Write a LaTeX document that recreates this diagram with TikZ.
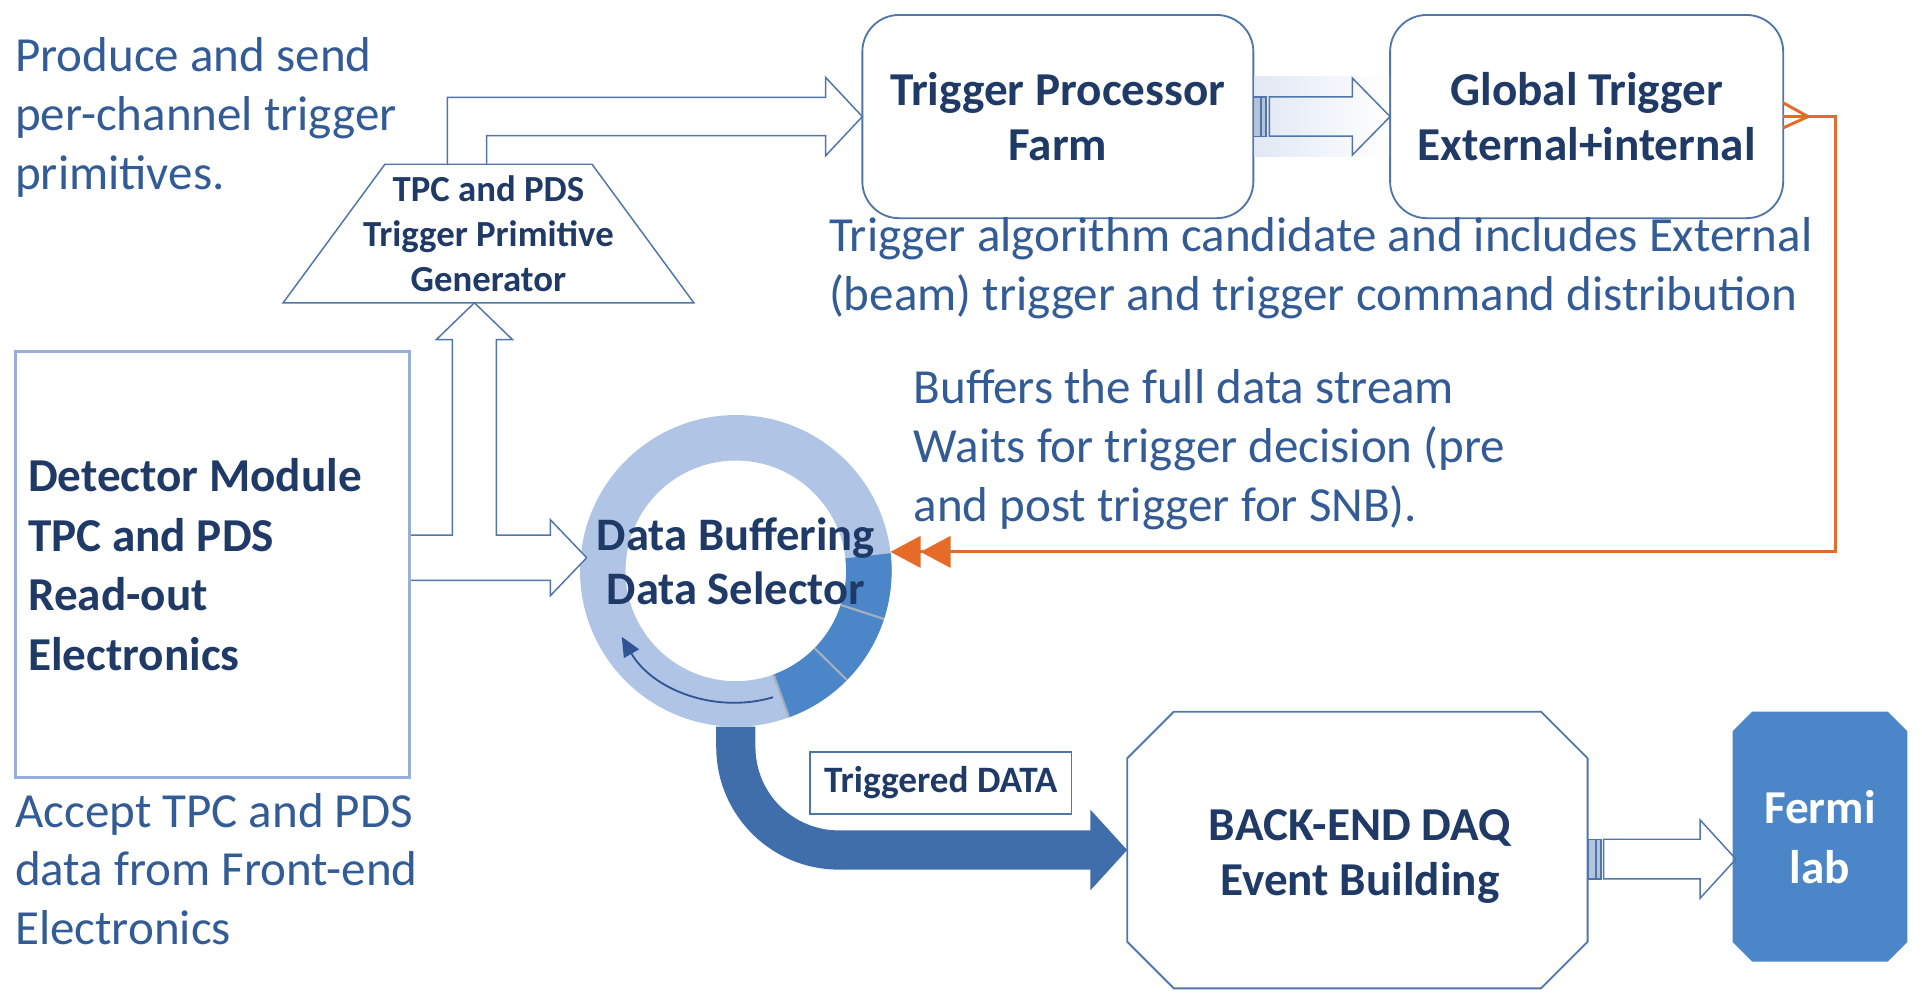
\documentclass[tikz,border=0pt]{standalone}
\usepackage{fontspec}
\setmainfont{Carlito}
\usetikzlibrary{arrows.meta,calc,backgrounds}

\definecolor{txtblue}{HTML}{335C96}
\definecolor{navy}{HTML}{1F3A66}
\definecolor{edge}{HTML}{5075AA}
\definecolor{detedge}{HTML}{95AEDA}
\definecolor{ringlight}{HTML}{B0C5E6}
\definecolor{segblue}{HTML}{4A86C8}
\definecolor{gapgray}{HTML}{A4AEBE}
\definecolor{flowblue}{HTML}{3F6EAA}
\definecolor{fermiblue}{HTML}{4A86C8}
\definecolor{sigorange}{HTML}{E66B28}
\definecolor{bandblue}{HTML}{E1E8F4}
\definecolor{stubfill}{HTML}{B3C3DC}
\definecolor{arcblue}{HTML}{2F5597}

\begin{document}
\begin{tikzpicture}[x=0.5pt,y=-0.5pt,
  note/.style={font=\fontsize{20pt}{24pt}\selectfont, text=txtblue, align=left, inner sep=0pt, anchor=west},
  boldtext/.style={font=\bfseries\fontsize{19.25pt}{22.5pt}\selectfont, text=navy, align=center},
  smallbold/.style={font=\bfseries\fontsize{15pt}{18.4pt}\selectfont, text=navy, align=center},
  plainbox/.style={inner sep=0pt, outer sep=0pt},
  blockarrow/.style={draw=edge, line width=0.6pt, line join=miter},
  stub/.style={draw=edge, line width=0.5pt, fill=stubfill},
]
\useasboundingbox (0,0) rectangle (1568,810);
\begin{scope}[on background layer]
  \fill[white] (0,0) rectangle (1568,810);
\end{scope}

% ---------- boxes ----------
\node[plainbox, draw=detedge, line width=1.1pt, minimum width=160.6pt, minimum height=173.75pt] (det) at (173.4,460.65) {};
\node[plainbox, boldtext, align=left, font=\bfseries\fontsize{19.25pt}{24.25pt}\selectfont, anchor=west]
  (detlabel) at ([xshift=5.1pt]det.west) {Detector Module\\TPC and PDS\\Read-out\\Electronics};

\node[plainbox, smallbold, minimum width=167.5pt, minimum height=56.5pt] (tpg) at (398.5,190.5)
  {TPC and PDS\\Trigger Primitive\\Generator};
\draw[edge, line width=0.6pt, line join=miter]
  (tpg.south west) -- (tpg.south east) -- ([xshift=-41.5pt]tpg.north east)
  -- ([xshift=41.5pt]tpg.north west) -- cycle;

\node[plainbox, boldtext, draw=edge, line width=0.75pt, rounded corners=15pt,
      minimum width=159.5pt, minimum height=82.9pt] (tpf) at (863,95.1)
  {Trigger Processor\\Farm};
\node[plainbox, boldtext, draw=edge, line width=0.75pt, rounded corners=15pt,
      minimum width=160.35pt, minimum height=82.9pt] (gt) at (1294.4,95.1)
  {Global Trigger\\External+internal};

\node[plainbox, circle, minimum size=127.1pt] (ring) at (600.3,465.7) {};

\node[plainbox, smallbold, font=\bfseries\fontsize{15.2pt}{17pt}\selectfont,
      draw=edge, line width=0.7pt, minimum width=106.75pt, minimum height=25.5pt] (trig) at (767.5,638.8)
  {Triggered DATA};

\node[plainbox, minimum width=187.8pt, minimum height=112.85pt] (beq) at (1107.4,693.45) {};
\node[boldtext, inner sep=0pt] (beqlabel) at ([yshift=-2.5pt, xshift=1pt]beq.center)
  {BACK-END DAQ\\Event Building};
\draw[edge, line width=0.75pt, line join=miter]
  ([xshift=19pt]beq.north west) -- ([xshift=-19pt]beq.north east) -- ([yshift=-19pt]beq.north east)
  -- ([yshift=19pt]beq.south east) -- ([xshift=-19pt]beq.south east) -- ([xshift=19pt]beq.south west)
  -- ([yshift=19pt]beq.south west) -- ([yshift=-19pt]beq.north west) -- cycle;

\node[plainbox, boldtext, text=white, font=\bfseries\fontsize{19.25pt}{24.5pt}\selectfont,
      minimum width=71.25pt, minimum height=101.95pt] (fermi) at (1484.75,682.55)
  {Fermi\\lab};
\begin{scope}[on background layer]
  \fill[fermiblue]
    ([xshift=8pt]fermi.north west) -- ([xshift=-8pt]fermi.north east) -- ([yshift=-8pt]fermi.north east)
    -- ([yshift=8pt]fermi.south east) -- ([xshift=-8pt]fermi.south east) -- ([xshift=8pt]fermi.south west)
    -- ([yshift=8pt]fermi.south west) -- ([yshift=-8pt]fermi.north west) -- cycle;
\end{scope}

% ---------- notes ----------
\node[note] (produce) at (12,96) {Produce and send\\per-channel trigger\\primitives.};
\node[note] (algo) at (676,219) {Trigger algorithm candidate and includes External\\(beam) trigger and trigger command distribution};
\node[note] (buffers) at (745,367) {Buffers the full data stream\\Waits for trigger decision (pre\\and post trigger for SNB).};
\node[note] (accept) at (12,709) {Accept TPC and PDS\\data from Front-end\\Electronics};

% ---------- triggered data flow ----------
\draw[flowblue, line width=16pt, rounded corners=42pt, -{Triangle[length=15pt,width=32pt]}]
  (ring.south) |- (beq.west);

% ---------- circular buffer ----------
\fill[ringlight, even odd rule] (ring.center) circle[radius=63.55pt] (ring.center) circle[radius=45pt];
\foreach \a/\b in {6.5/-18, -18/-44.5, -44.5/-70} {
  \fill[segblue] ($(ring.center)+(\a:63.55pt)$) arc[start angle=\a, end angle=\b, radius=63.55pt]
    -- ($(ring.center)+(\b:45pt)$) arc[start angle=\b, end angle=\a, radius=45pt] -- cycle;
}
\foreach \a in {-18,-44.5,-70} {
  \draw[gapgray, line width=0.9pt] ($(ring.center)+(\a:45pt)$) -- ($(ring.center)+(\a:63.55pt)$);
}
\draw[arcblue, line width=0.75pt, -{Triangle[length=8pt,width=7pt]}]
  ($(ring.center)+(-73.6:53.75pt)$) arc[start angle=-73.6, end angle=-150, radius=53.75pt];

% ---------- primitives to the trigger farm ----------
\draw[blockarrow] let \p1=(tpg.north), \p2=(tpf.west) in
  (\x1-16.75pt,\y1) -- (\x1-16.75pt,\y2+7.8pt) -- (\x2-15pt,\y2+7.8pt) -- (\x2-15pt,\y2+16pt)
  -- (\p2) -- (\x2-15pt,\y2-16pt) -- (\x2-15pt,\y2-7.8pt) -- (\x1-0.75pt,\y2-7.8pt) -- (\x1-0.75pt,\y1);

% ---------- read-out to generator and buffer ----------
\coordinate (dbin) at (478.6,455);
\fill[white] let \p1=(det.east), \p2=([xshift=-5.75pt]tpg.south), \p3=(dbin) in
  (\x1+0.55pt,\y3+9.2pt) -- (\x2-9pt,\y3+9.2pt) -- (\x2-9pt,\y2-15pt) -- (\x2-15.5pt,\y2-15pt)
  -- (\p2) -- (\x2+15.5pt,\y2-15pt) -- (\x2+9pt,\y2-15pt) -- (\x2+9pt,\y3+9.2pt)
  -- (\x3-14.8pt,\y3+9.2pt) -- (\x3-14.8pt,\y3+15.5pt) -- (\p3) -- (\x3-14.8pt,\y3-15.5pt)
  -- (\x3-14.8pt,\y3-9.2pt) -- (\x1+0.55pt,\y3-9.2pt) -- cycle;
\draw[blockarrow] let \p1=(det.east), \p2=([xshift=-5.75pt]tpg.south), \p3=(dbin) in
  (\x1+0.55pt,\y3+9.2pt) -- (\x2-9pt,\y3+9.2pt) -- (\x2-9pt,\y2-15pt) -- (\x2-15.5pt,\y2-15pt)
  -- (\p2) -- (\x2+15.5pt,\y2-15pt) -- (\x2+9pt,\y2-15pt) -- (\x2+9pt,\y3+9.2pt)
  -- (\x3-14.8pt,\y3+9.2pt) -- (\x3-14.8pt,\y3+15.5pt) -- (\p3) -- (\x3-14.8pt,\y3-15.5pt)
  -- (\x3-14.8pt,\y3-9.2pt) -- (\x1+0.55pt,\y3-9.2pt);

\node[boldtext, font=\bfseries\fontsize{19pt}{21.75pt}\selectfont, inner sep=0pt] (dblabel)
  at ([yshift=3.85pt]ring.center) {Data Buffering\\Data Selector};

% ---------- farm to global trigger ----------
\shade[left color=bandblue, right color=white] let \p1=(tpf.east), \p2=(gt.west) in
  (\x1+0.4pt,\y1+16.4pt) rectangle (\x2-0.4pt,\y1-16.4pt);
\draw[stub] let \p1=(tpf.east) in (\x1+0.15pt,\y1+8pt) rectangle (\x1+2.85pt,\y1-8pt);
\draw[stub] let \p1=(tpf.east) in (\x1+3.15pt,\y1+8pt) rectangle (\x1+5.2pt,\y1-8pt);
\draw[blockarrow] let \p1=(tpf.east), \p2=(gt.west) in
  (\x1+6.5pt,\y1+8pt) -- (\x2-15.35pt,\y1+8pt) -- (\x2-15.35pt,\y1+15.65pt) -- (\p2)
  -- (\x2-15.35pt,\y1-15.65pt) -- (\x2-15.35pt,\y1-8pt) -- (\x1+6.5pt,\y1-8pt) -- cycle;

% ---------- back-end to Fermilab ----------
\draw[stub] let \p1=([yshift=-3.7pt]beq.east) in (\x1+0.4pt,\y1+8.1pt) rectangle (\x1+3.15pt,\y1-8.1pt);
\draw[stub] let \p1=([yshift=-3.7pt]beq.east) in (\x1+3.4pt,\y1+8.1pt) rectangle (\x1+5.45pt,\y1-8.1pt);
\draw[blockarrow] let \p1=([yshift=-3.7pt]beq.east), \p2=(fermi.west) in
  (\x1+6.5pt,\y1+8.1pt) -- (\x2-13.3pt,\y1+8.1pt) -- (\x2-13.3pt,\y1+16pt) -- (\x2+1.35pt,\y1)
  -- (\x2-13.3pt,\y1-16pt) -- (\x2-13.3pt,\y1-8.1pt) -- (\x1+6.5pt,\y1-8.1pt) -- cycle;

% ---------- trigger decision back to the buffer ----------
\coordinate (ocorner) at ($(gt.east)+(21.5pt,0pt)$);
\draw[sigorange, line width=1.2pt,
      -{Triangle[length=12.25pt,width=12.75pt,sep=0pt]Triangle[length=12.25pt,width=12.75pt,sep=0pt]}]
  (gt.east) -- (ocorner) |- (ring.7);
\draw[sigorange, line width=1.2pt]
  ([yshift=5.6pt]gt.east) -- ([xshift=10.15pt]gt.east) -- ([yshift=-4.6pt]gt.east);
\end{tikzpicture}
\end{document}
